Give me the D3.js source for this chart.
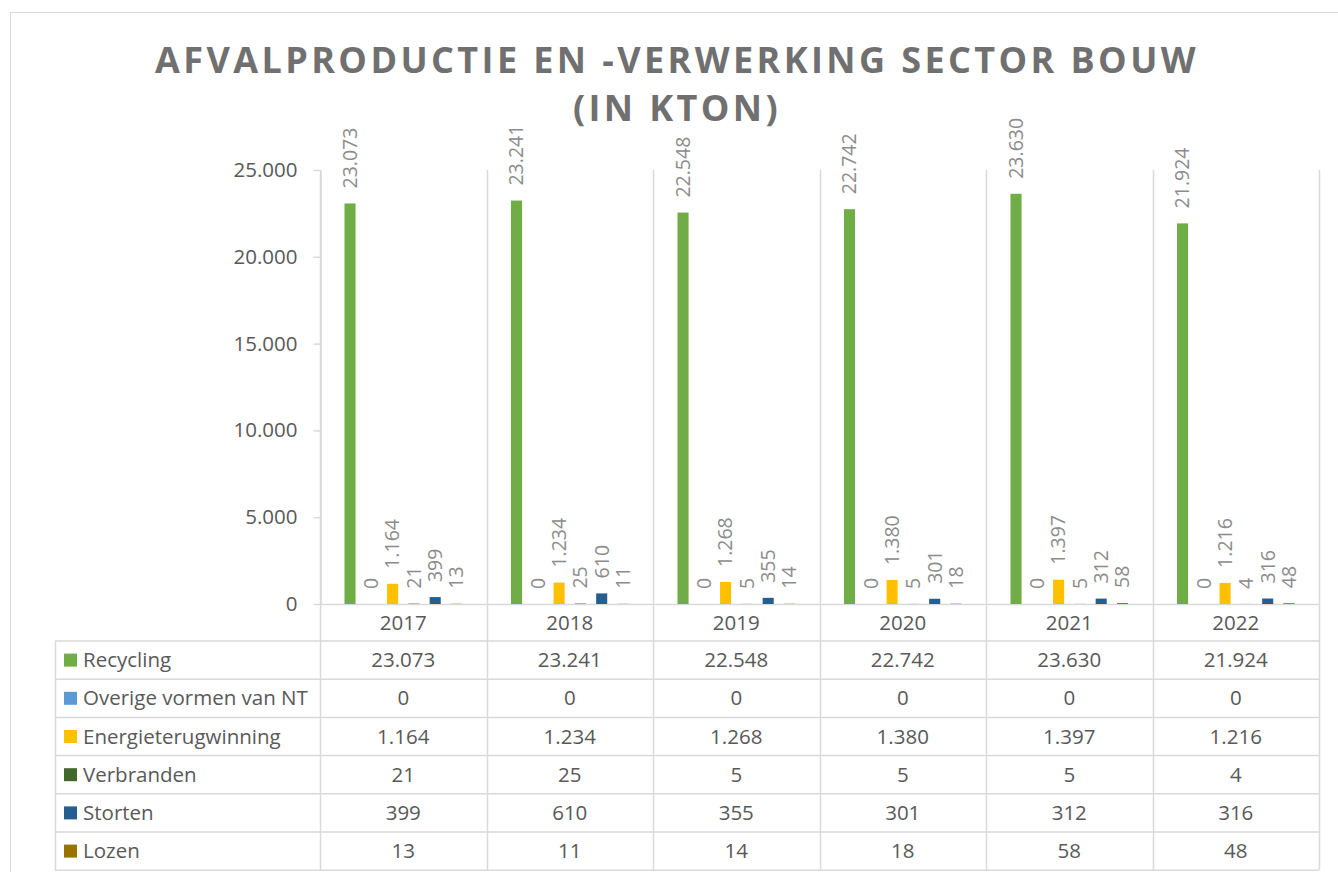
<!DOCTYPE html>
<html>
<head>
<meta charset="utf-8">
<script src="https://cdn.jsdelivr.net/npm/d3@7"></script>
<style>
  body { margin: 0; background: #fff; }
  svg { display: block; font-family: "Open Sans", sans-serif; }
</style>
</head>
<body>
<div id="chart"></div>
<script>
// data
var years = ["2017", "2018", "2019", "2020", "2021", "2022"];
var seriesNames = ["Recycling", "Overige vormen van NT", "Energieterugwinning", "Verbranden", "Storten", "Lozen"];
var seriesColors = ["#70AD47", "#5B9BD5", "#FFC000", "#43682B", "#255E91", "#997300"];
var recycling = [23073, 23241, 22548, 22742, 23630, 21924];
var overige = [0, 0, 0, 0, 0, 0];
var energie = [1164, 1234, 1268, 1380, 1397, 1216];
var verbranden = [21, 25, 5, 5, 5, 4];
var storten = [399, 610, 355, 301, 312, 316];
var lozen = [13, 11, 14, 18, 58, 48];
var yTicks = [0, 5000, 10000, 15000, 20000, 25000];

var seriesValues = [recycling, overige, energie, verbranden, storten, lozen];

var w = 1338, h = 872;
var nl = d3.formatLocale({decimal: ",", thousands: ".", grouping: [3], currency: ["€", ""]});
var fmt = nl.format(",d");

var svg = d3.select("#chart").append("svg")
    .attr("width", w)
    .attr("height", h);

// outer chart border (runs off the right and bottom edge)
svg.append("rect")
    .attr("x", 10.5).attr("y", 12.5)
    .attr("width", 1400).attr("height", 900)
    .attr("fill", "none")
    .attr("stroke", "#d9d9d9");

// title
var title = svg.append("text")
    .attr("x", 677)
    .attr("text-anchor", "middle")
    .attr("fill", "#707070")
    .attr("font-size", "36px")
    .attr("font-weight", "bold")
    .attr("letter-spacing", "3.4px");
title.append("tspan").attr("x", 677).attr("y", 73).text("AFVALPRODUCTIE EN -VERWERKING SECTOR BOUW");
title.append("tspan").attr("x", 677).attr("y", 121).text("(IN KTON)");

var x0 = d3.scaleBand().domain(years).range([320, 1319]);
var x1 = d3.scaleBand().domain(seriesNames).range([0, x0.bandwidth()])
    .paddingInner(0.48).paddingOuter(1.15);
var y = d3.scaleLinear().domain([0, 25000]).range([604, 170]);

// category separators through plot and table
var sepX = years.map(function(d) { return x0(d) + x0.bandwidth(); });
svg.selectAll("line.sep")
    .data(sepX)
    .enter().append("line")
    .attr("class", "sep")
    .attr("x1", function(d) { return Math.round(d) + 0.5; })
    .attr("x2", function(d) { return Math.round(d) + 0.5; })
    .attr("y1", y(25000))
    .attr("y2", 870)
    .attr("stroke", "#d9d9d9")
    .attr("stroke-width", 1.5);

// y axis
var yAxis = d3.axisLeft(y).tickValues(yTicks).tickFormat(fmt).tickSizeInner(7).tickSizeOuter(0).tickPadding(16);
var ag = svg.append("g").attr("transform", "translate(320.5,0)").call(yAxis);
ag.select(".domain").attr("stroke", "#d9d9d9").attr("stroke-width", 1.5);
ag.selectAll(".tick line").attr("stroke", "#d9d9d9").attr("stroke-width", 1.5);
ag.selectAll(".tick text").attr("fill", "#595959").attr("font-size", "20.5px")
    .attr("font-family", "'Open Sans', sans-serif");

// x baseline
svg.append("line")
    .attr("x1", 320).attr("x2", 1319)
    .attr("y1", y(0) + 0.5).attr("y2", y(0) + 0.5)
    .attr("stroke", "#d9d9d9").attr("stroke-width", 1.5);

// bars
var groups = svg.selectAll("g.year")
    .data(years)
    .enter().append("g")
    .attr("class", "year")
    .attr("transform", function(d) { return "translate(" + x0(d) + ",0)"; });

groups.each(function(yr, yi) {
    var g = d3.select(this);
    var vals = seriesNames.map(function(s, si) { return {s: s, i: si, v: seriesValues[si][yi]}; });
    g.selectAll("rect")
        .data(vals)
        .enter().append("rect")
        .attr("x", function(d) { return x1(d.s); })
        .attr("width", x1.bandwidth())
        .attr("y", function(d) { return y(d.v); })
        .attr("height", function(d) { return y(0) - y(d.v); })
        .attr("fill", function(d) { return seriesColors[d.i]; });
    g.selectAll("text")
        .data(vals)
        .enter().append("text")
        .attr("transform", function(d) {
            var tx = x1(d.s) + x1.bandwidth() / 2;
            var ty = y(d.v) - 15;
            return "translate(" + tx + "," + ty + ")rotate(-90)";
        })
        .attr("dy", "0.35em")
        .attr("fill", "#8c8c8c")
        .attr("font-size", "19.5px")
        .text(function(d) { return fmt(d.v); });
});

// data table
var rowTop = 641, rowH = 38.2;
// year header row
svg.selectAll("text.yr")
    .data(years)
    .enter().append("text")
    .attr("class", "yr")
    .attr("x", function(d) { return x0(d) + x0.bandwidth() / 2; })
    .attr("y", 622.5)
    .attr("dy", "0.35em")
    .attr("text-anchor", "middle")
    .attr("fill", "#595959")
    .attr("font-size", "20.5px")
    .text(function(d) { return d; });

// horizontal lines of table
var hLines = d3.range(seriesNames.length + 1).map(function(i) { return rowTop + i * rowH; });
svg.selectAll("line.row")
    .data(hLines)
    .enter().append("line")
    .attr("class", "row")
    .attr("x1", 55).attr("x2", 1319)
    .attr("y1", function(d) { return d; })
    .attr("y2", function(d) { return d; })
    .attr("stroke", "#d9d9d9").attr("stroke-width", 1.5);

// left border + first column divider
[55, 320].forEach(function(xx) {
    svg.append("line")
        .attr("x1", xx + 0.5).attr("x2", xx + 0.5)
        .attr("y1", xx == 55 ? rowTop : y(25000)).attr("y2", rowTop + 6 * rowH)
        .attr("stroke", "#d9d9d9").attr("stroke-width", 1.5);
});

var rows = svg.selectAll("g.trow")
    .data(seriesNames)
    .enter().append("g")
    .attr("class", "trow")
    .attr("transform", function(d, i) { return "translate(0," + (rowTop + i * rowH + rowH / 2) + ")"; });

rows.append("rect")
    .attr("x", 64).attr("y", -6.5)
    .attr("width", 13).attr("height", 13)
    .attr("fill", function(d, i) { return seriesColors[i]; });

rows.append("text")
    .attr("x", 83)
    .attr("dy", "0.35em")
    .attr("fill", "#595959")
    .attr("font-size", "20.5px")
    .text(function(d) { return d; });

rows.each(function(s, si) {
    d3.select(this).selectAll("text.val")
        .data(seriesValues[si])
        .enter().append("text")
        .attr("class", "val")
        .attr("x", function(d, i) { return x0(years[i]) + x0.bandwidth() / 2; })
        .attr("dy", "0.35em")
        .attr("text-anchor", "middle")
        .attr("fill", "#595959")
        .attr("font-size", "20.5px")
        .text(function(d) { return fmt(d); });
});
</script>
</body>
</html>
